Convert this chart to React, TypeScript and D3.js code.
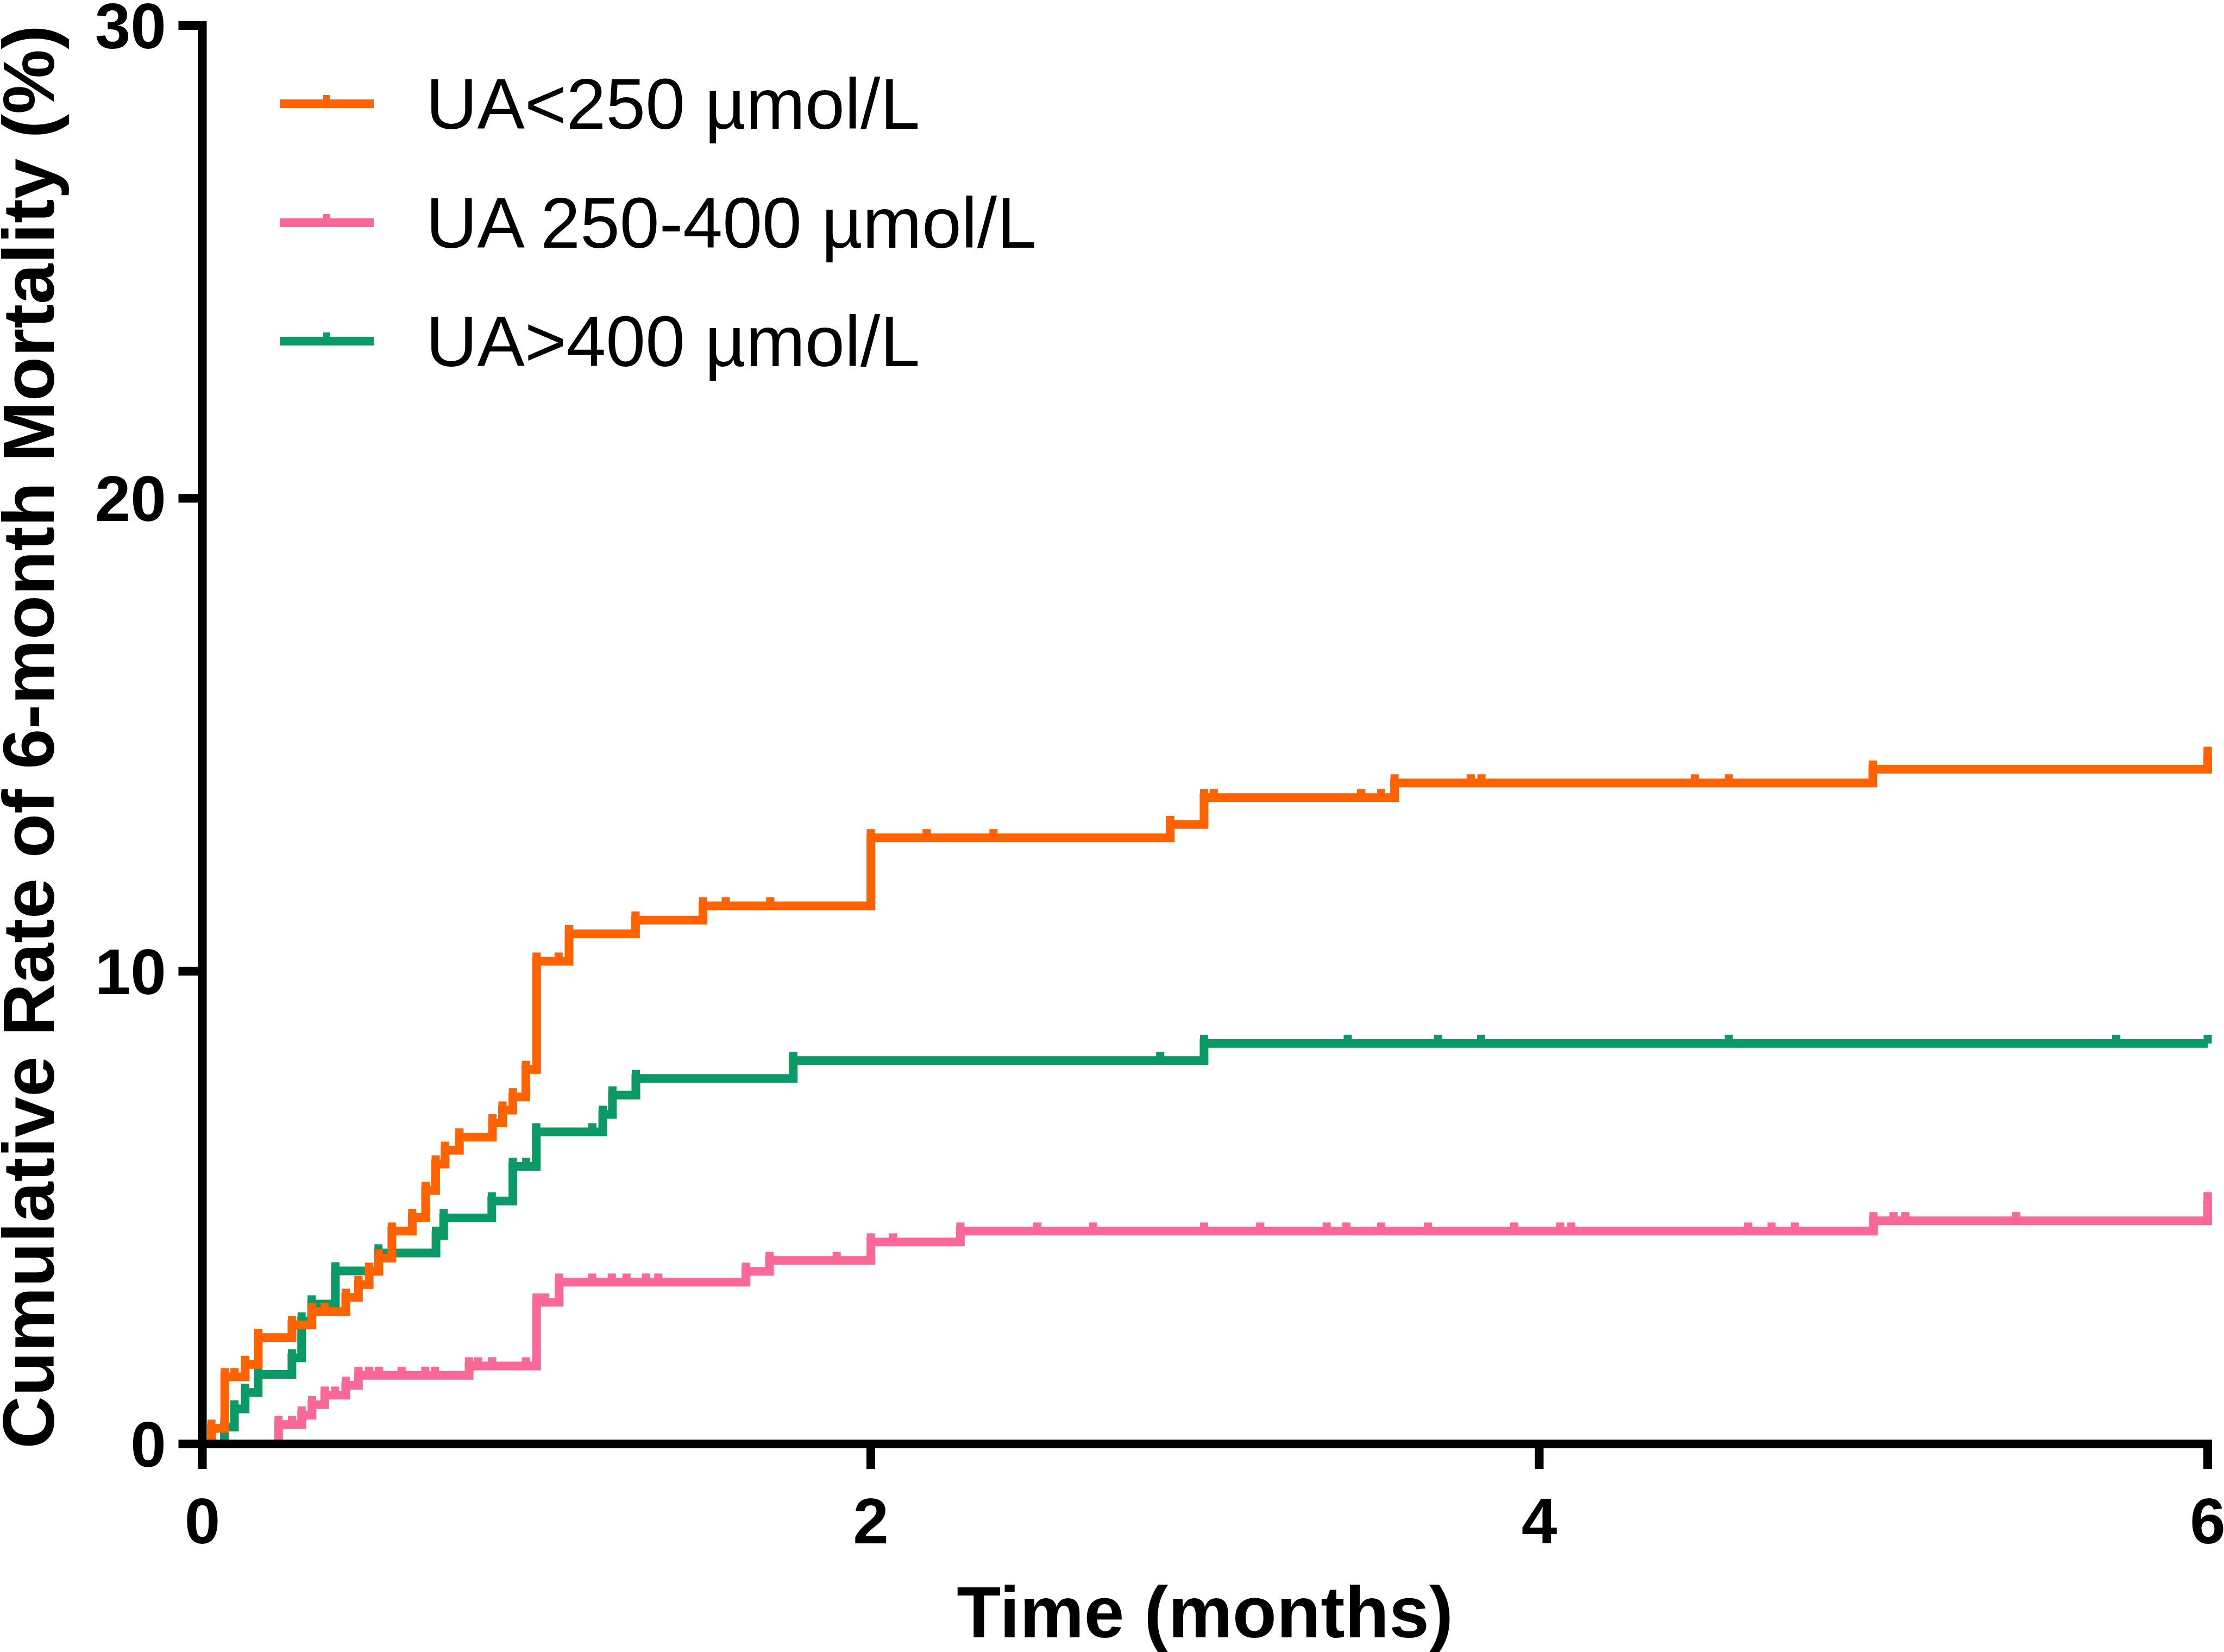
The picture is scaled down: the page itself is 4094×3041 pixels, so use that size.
import React from 'react';
import * as d3 from 'd3';

const W = 4094;
const H = 3041;

// Kaplan-Meier style cumulative mortality
const lowTimes = [0, 0.027, 0.067, 0.128, 0.167, 0.268, 0.328, 0.429, 0.467, 0.499, 0.528, 0.567, 0.628, 0.668, 0.698, 0.726, 0.769, 0.868, 0.898, 0.929, 0.968, 1.0, 1.097, 1.296, 1.498, 2.0, 2.896, 2.997, 3.567, 4.998, 6.0];
const lowRates = [0, 0.33, 1.42, 1.68, 2.25, 2.52, 2.8, 3.1, 3.37, 3.65, 3.93, 4.5, 4.79, 5.36, 5.92, 6.21, 6.49, 6.79, 7.06, 7.34, 7.92, 10.21, 10.79, 11.08, 11.38, 12.82, 13.1, 13.67, 13.98, 14.27, 14.56];
const lowCensored = [0.096, 0.366, 1.066, 1.566, 1.699, 2.167, 2.367, 3.026, 3.467, 3.527, 3.795, 3.827, 4.466, 4.567, 6.0];

const midTimes = [0, 0.228, 0.297, 0.328, 0.366, 0.429, 0.467, 0.798, 1.0, 1.067, 1.626, 1.697, 2.0, 2.268, 5.0, 6.0];
const midRates = [0, 0.41, 0.61, 0.83, 1.03, 1.24, 1.45, 1.65, 3.0, 3.42, 3.65, 3.88, 4.27, 4.5, 4.72, 5.14];
const midCensored = [0.268, 0.397, 0.499, 0.528, 0.596, 0.667, 0.696, 0.825, 0.867, 0.968, 1.025, 1.166, 1.225, 1.269, 1.327, 1.364, 1.898, 2.066, 2.498, 2.665, 2.997, 3.165, 3.364, 3.423, 3.527, 3.667, 3.925, 4.062, 4.096, 4.625, 4.695, 4.765, 5.06, 5.095, 5.427, 6.0];

// last point is the end of follow-up (no event), curve stays flat
const highTimes = [0, 0.066, 0.096, 0.128, 0.167, 0.268, 0.297, 0.327, 0.398, 0.527, 0.699, 0.722, 0.866, 0.929, 0.999, 1.198, 1.227, 1.297, 1.768, 2.997, 6.0];
const highRates = [0, 0.36, 0.74, 1.09, 1.47, 1.82, 2.6, 2.96, 3.66, 4.04, 4.41, 4.78, 5.14, 5.87, 6.6, 6.97, 7.38, 7.73, 8.11, 8.47, 8.47];
const highCensored = [0.969, 1.167, 2.866, 3.427, 3.697, 3.826, 4.567, 5.726, 6.0];

const legendLabels = ['UA<250 µmol/L', 'UA 250-400 µmol/L', 'UA>400 µmol/L'];
const colors = ['#FF6200', '#FA6896', '#0B9A65'];

const xTicks = [0, 2, 4, 6];
const yTicks = [0, 10, 20, 30];

const font = '"Liberation Sans", Arial, Helvetica, sans-serif';
const LW = 16;

const x = d3.scaleLinear().domain([0, 6]).range([372.5, 4064]);
const y = d3.scaleLinear().domain([0, 30]).range([2658, 47]);

const series = [
  { times: lowTimes, rates: lowRates, censored: lowCensored, color: colors[0] },
  { times: midTimes, rates: midRates, censored: midCensored, color: colors[1] },
  { times: highTimes, rates: highRates, censored: highCensored, color: colors[2] },
];

const Curve: React.FC<{ times: number[]; rates: number[]; censored: number[]; color: string }> = ({ times, rates, censored, color }) => {
  const line = d3
    .line<number>()
    .x((_, i) => x(times[i]))
    .y(d => y(d))
    .curve(d3.curveStepAfter);

  // small upward marks: censored subjects, plus the little ear at each step
  const steps = times.filter((t, i) => i > 0 && rates[i] !== rates[i - 1]);
  const marks = steps.concat(censored).map(t => {
    const i = d3.bisectRight(times, t) - 1;
    return { t, v: rates[Math.max(0, i)] };
  });

  return (
    <g>
      <path d={line(rates) || ''} fill="none" stroke={color} strokeWidth={LW} strokeLinejoin="miter" />
      {marks.map((m, i) => (
        <line key={i} x1={x(m.t)} x2={x(m.t)} y1={y(m.v)} y2={y(m.v) - 16} stroke={color} strokeWidth={15} />
      ))}
    </g>
  );
};

const App: React.FC = () => {
  const legendY = [191, 410, 628];
  return (
    <svg width={W} height={H} viewBox={`0 0 ${W} ${H}`} style={{ position: 'fixed', left: 0, top: 0, background: '#fff' }}>
      <rect width={W} height={H} fill="#fff" />

      {/* curves: green under pink under orange */}
      <Curve {...series[2]} />
      <Curve {...series[1]} />
      <Curve {...series[0]} />

      {/* axes */}
      <line x1={x(0)} x2={x(0)} y1={y(30)} y2={y(0)} stroke="#000" strokeWidth={LW} strokeLinecap="square" />
      <line x1={x(0)} x2={x(6)} y1={y(0)} y2={y(0)} stroke="#000" strokeWidth={LW} strokeLinecap="square" />
      {yTicks.map(t => (
        <g key={'y' + t}>
          <line x1={x(0) - 44} x2={x(0)} y1={y(t)} y2={y(t)} stroke="#000" strokeWidth={LW} />
          <text x={306} y={y(t) + 42} textAnchor="end" fontFamily={font} fontWeight="bold" fontSize={118}>
            {t}
          </text>
        </g>
      ))}
      {xTicks.map(t => (
        <g key={'x' + t}>
          <line x1={x(t)} x2={x(t)} y1={y(0)} y2={y(0) + 46} stroke="#000" strokeWidth={LW} />
          <text x={x(t)} y={2841} textAnchor="middle" fontFamily={font} fontWeight="bold" fontSize={118}>
            {t}
          </text>
        </g>
      ))}

      <text x={(x(0) + x(6)) / 2} y={3014} textAnchor="middle" fontFamily={font} fontWeight="bold" fontSize={133}>
        Time (months)
      </text>
      <text
        transform={`translate(99, ${(y(0) + y(30)) / 2 + 4}) rotate(-90)`}
        textAnchor="middle"
        fontFamily={font}
        fontWeight="bold"
        fontSize={134}
      >
        Cumulative Rate of 6-month Mortality (%)
      </text>

      {/* legend */}
      {legendLabels.map((label, i) => (
        <g key={label}>
          <line x1={515} x2={688} y1={legendY[i]} y2={legendY[i]} stroke={colors[i]} strokeWidth={LW} />
          <line x1={601} x2={601} y1={legendY[i]} y2={legendY[i] - 16} stroke={colors[i]} strokeWidth={12} />
          <text x={784} y={legendY[i] + 46} fontFamily={font} fontSize={131}>
            {label}
          </text>
        </g>
      ))}
    </svg>
  );
};

export default App;
